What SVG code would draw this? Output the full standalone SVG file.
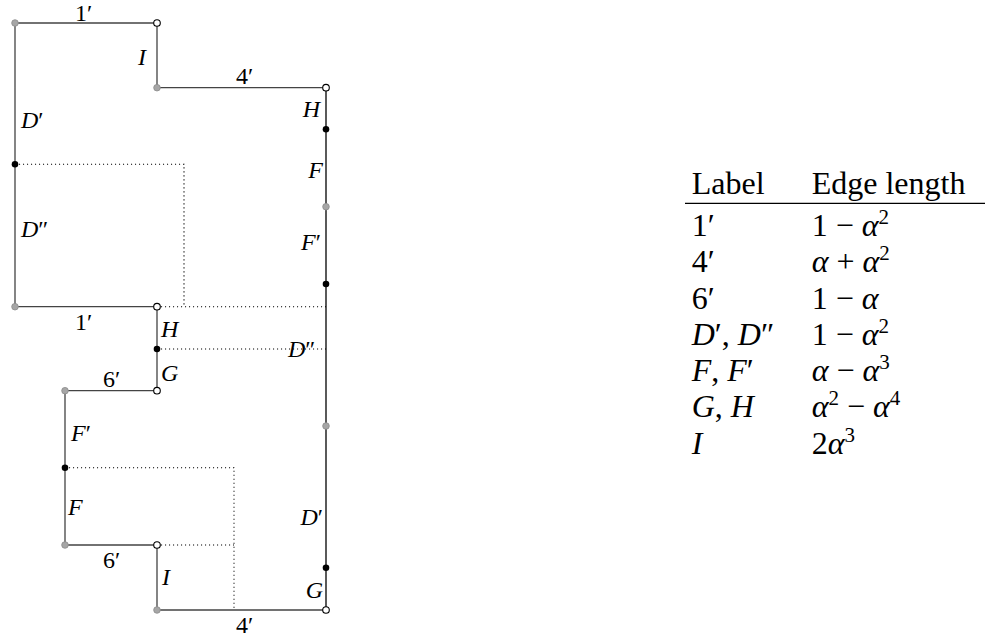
<svg xmlns="http://www.w3.org/2000/svg" width="985" height="638" viewBox="0 0 985 638">
<style>
.e{stroke:#444;stroke-width:1.3;fill:none;stroke-linejoin:miter}
.eb{stroke:#000;stroke-width:1.3;fill:none}
.dt{stroke:#000;stroke-width:1.1;stroke-dasharray:1.1 2.9;fill:none}
.vg{fill:#a6a6a6;stroke:#8c8c8c;stroke-width:0.8}
.vw{fill:#fff;stroke:#000;stroke-width:1.1}
.vb{fill:#000}
.l{font-family:"Liberation Serif",serif;font-size:24px;font-style:italic;fill:#000}
.n{font-style:normal}
.t{font-family:"Liberation Serif",serif;font-size:32px;fill:#000}
.i{font-style:italic}
.s{font-size:21px}
</style>
<rect width="985" height="638" fill="#fff"/>
<g id="connectors">
<path class="e" d="M15,23 H157 V87.7 M326,610 H157 V545 H65 V390.7 H157 V306.7 H15 V23"/>
<path class="e" d="M157,87.7 H326"/>
<path class="eb" d="M326,87.7 V610"/>
<path class="dt" d="M15,164.3 H184 V306.7"/>
<path class="dt" d="M157,306.7 H326"/>
<path class="dt" d="M157,349 H326"/>
<path class="dt" d="M65,467.7 H234 V610"/>
<path class="dt" d="M157,545 H234"/>
</g>
<g id="v1"><circle class="vg" cx="15" cy="23" r="3.3"/></g>
<g id="v2"><circle class="vw" cx="157" cy="23" r="3.3"/></g>
<g id="v3"><circle class="vg" cx="157" cy="87.7" r="3.3"/></g>
<g id="v4"><circle class="vw" cx="326" cy="87.7" r="3.3"/></g>
<g id="v5"><circle class="vb" cx="326" cy="129.3" r="3.3"/></g>
<g id="v6"><circle class="vg" cx="326" cy="206.7" r="3.3"/></g>
<g id="v7"><circle class="vb" cx="326" cy="284" r="3.3"/></g>
<g id="v8"><circle class="vg" cx="326" cy="426" r="3.3"/></g>
<g id="v9"><circle class="vb" cx="326" cy="567.7" r="3.3"/></g>
<g id="v10"><circle class="vw" cx="326" cy="610" r="3.3"/></g>
<g id="v11"><circle class="vg" cx="157" cy="610" r="3.3"/></g>
<g id="v12"><circle class="vw" cx="157" cy="545" r="3.3"/></g>
<g id="v13"><circle class="vg" cx="65" cy="545" r="3.3"/></g>
<g id="v14"><circle class="vb" cx="65" cy="467.7" r="3.3"/></g>
<g id="v15"><circle class="vg" cx="65" cy="390.7" r="3.3"/></g>
<g id="v16"><circle class="vw" cx="157" cy="390.7" r="3.3"/></g>
<g id="v17"><circle class="vb" cx="157" cy="349" r="3.3"/></g>
<g id="v18"><circle class="vw" cx="157" cy="306.7" r="3.3"/></g>
<g id="v19"><circle class="vg" cx="15" cy="306.7" r="3.3"/></g>
<g id="v20"><circle class="vb" cx="15" cy="164.3" r="3.3"/></g>
<g id="labels" class="l">
<text class="n" x="75" y="20.7">1′</text>
<text x="138" y="65">I</text>
<text class="n" x="236" y="83.5">4′</text>
<text x="320" y="116.7" text-anchor="end">H</text>
<text x="21" y="128.3">D<tspan class="n">′</tspan></text>
<text x="323" y="178.3" text-anchor="end">F</text>
<text x="21" y="237">D<tspan class="n">″</tspan></text>
<text x="321" y="250" text-anchor="end">F<tspan class="n">′</tspan></text>
<text class="n" x="75" y="330">1′</text>
<text x="161" y="336.7">H</text>
<text x="288" y="356.7">D<tspan class="n">″</tspan></text>
<text x="161" y="381">G</text>
<text class="n" x="103" y="387">6′</text>
<text x="71" y="441">F<tspan class="n">′</tspan></text>
<text x="68" y="515">F</text>
<text x="323" y="525" text-anchor="end">D<tspan class="n">′</tspan></text>
<text class="n" x="103" y="568">6′</text>
<text x="162" y="585">I</text>
<text x="323" y="598" text-anchor="end">G</text>
<text class="n" x="236" y="633">4′</text>
</g>
<g id="table" class="t">
<text x="691.7" y="194.3">Label</text>
<text x="811.7" y="194.3">Edge length</text>
<line x1="685" y1="203.3" x2="985" y2="203.3" stroke="#000" stroke-width="1.2"/>
<text x="691.7" y="236">1′</text>
<text x="811.7" y="236">1 − <tspan class="i">α</tspan><tspan class="s" dy="-12">2</tspan></text>
<text x="691.7" y="272.3">4′</text>
<text x="811.7" y="272.3"><tspan class="i">α</tspan> + <tspan class="i">α</tspan><tspan class="s" dy="-12">2</tspan></text>
<text x="691.7" y="308.5">6′</text>
<text x="811.7" y="308.5">1 − <tspan class="i">α</tspan></text>
<text x="691.7" y="344.8"><tspan class="i">D</tspan>′, <tspan class="i">D</tspan>″</text>
<text x="811.7" y="344.8">1 − <tspan class="i">α</tspan><tspan class="s" dy="-12">2</tspan></text>
<text x="691.7" y="381"><tspan class="i">F</tspan>, <tspan class="i">F</tspan>′</text>
<text x="811.7" y="381"><tspan class="i">α</tspan> − <tspan class="i">α</tspan><tspan class="s" dy="-12">3</tspan></text>
<text x="691.7" y="417.3"><tspan class="i">G</tspan>, <tspan class="i">H</tspan></text>
<text x="811.7" y="417.3"><tspan class="i">α</tspan><tspan class="s" dy="-12">2</tspan><tspan dy="12"> − </tspan><tspan class="i">α</tspan><tspan class="s" dy="-12">4</tspan></text>
<text x="691.7" y="453.6" class="t i">I</text>
<text x="811.7" y="453.6">2<tspan class="i">α</tspan><tspan class="s" dy="-12">3</tspan></text>
</g>
</svg>
